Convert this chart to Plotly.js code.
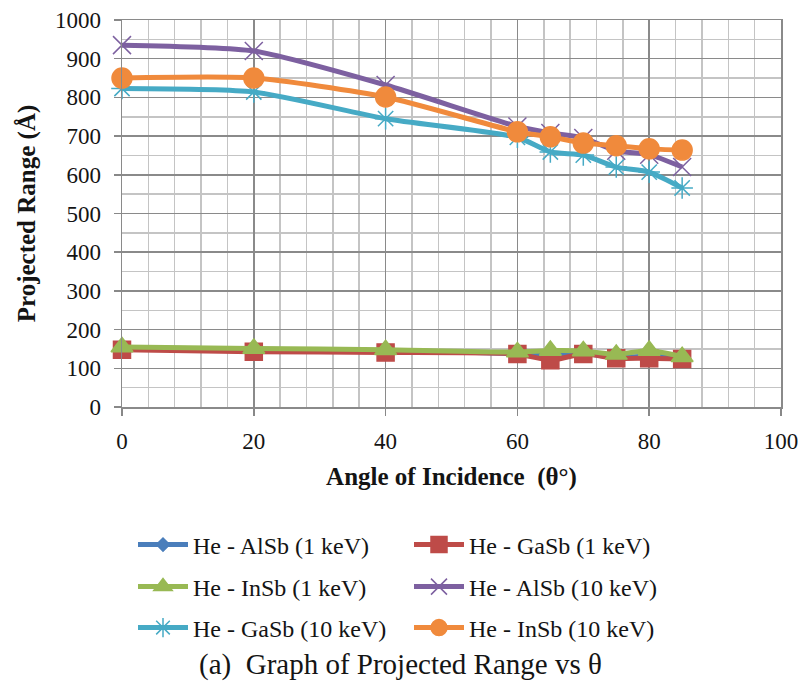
<!DOCTYPE html>
<html><head><meta charset="utf-8">
<script src="https://cdn.plot.ly/plotly-3.0.1.min.js"></script>
<style>body{margin:0;background:#fff}#c{width:802px;height:685px}</style>
</head><body><div id="c"></div>
<script>
const angles = [0, 20, 40, 60, 65, 70, 75, 80, 85];
const names = ["He - AlSb (1 keV)", "He - GaSb (1 keV)", "He - InSb (1 keV)", "He - AlSb (10 keV)", "He - GaSb (10 keV)", "He - InSb (10 keV)"];
const alsb1 = [153, 149, 146, 138, 134, 138, 128, 132, 128];
const gasb1 = [148, 143, 141, 137, 121, 137, 126, 126, 124];
const insb1 = [155, 151, 148, 142, 146, 145, 136, 146, 130];
const alsb10 = [935, 920, 832, 725, 708, 695, 662, 652, 620];
const gasb10 = [823, 814, 745, 697, 659, 651, 620, 607, 566];
const insb10 = [850, 850, 801, 711, 698, 682, 675, 667, 664];
const xTicks = [0, 20, 40, 60, 80, 100];
const yTicks = [0, 100, 200, 300, 400, 500, 600, 700, 800, 900, 1000];

const colors = ["#4a7ebb", "#be4b48", "#98b954", "#7d60a0", "#46aac5", "#f08a3c"];
const symbols = ["diamond", "square", "triangle-up", "x-thin-open", "asterisk-open", "circle"];
const sizes = [10, 17, 19, 18, 18, 20];
const series = [alsb1, gasb1, insb1, alsb10, gasb10, insb10];
const legendIds = ["legend", "legend", "legend2", "legend2", "legend3", "legend3"];

const traces = series.map((ys, i) => ({
  x: angles, y: ys, name: names[i], type: "scatter", mode: "lines+markers",
  cliponaxis: false,
  line: {color: colors[i], width: 5, shape: "spline", smoothing: 0.6},
  marker: {symbol: symbols[i], size: sizes[i], color: colors[i], line: {color: colors[i], width: 1.5}},
  legend: legendIds[i]
}));

const fontF = "Liberation Serif, serif";
const txt = "#141414";
const legBase = (yPix) => ({
  xref: "container", yref: "container", x: 133/802, y: 1 - yPix/685, yanchor: "middle",
  orientation: "h", entrywidth: 211, entrywidthmode: "pixels", itemwidth: 50,
  font: {family: fontF, size: 24, color: txt}, bgcolor: "rgba(0,0,0,0)"
});

const layout = {
  width: 802, height: 685,
  margin: {l: 122, r: 21, t: 20, b: 278},
  paper_bgcolor: "#fff", plot_bgcolor: "#fff",
  font: {family: fontF, color: txt},
  xaxis: {
    range: [0, 100], tickvals: xTicks, ticks: "outside", ticklen: 7, tickcolor: "#888", tickwidth: 1.5,
    ticklabelstandoff: 6,
    showgrid: true, gridcolor: "#8a8a8a", gridwidth: 1.5,
    minor: {dtick: 4, showgrid: true, gridcolor: "#c4c4c4", gridwidth: 1.5},
    showline: true, linecolor: "#8a8a8a", linewidth: 1.5, mirror: true, zeroline: false,
    tickfont: {family: fontF, size: 23, color: txt},
    title: {text: "<b>Angle of Incidence  (θ°)</b>", font: {family: fontF, size: 25, color: txt}, standoff: 14}
  },
  yaxis: {
    range: [0, 1000], tickvals: yTicks, ticks: "outside", ticklen: 7, tickcolor: "#888", tickwidth: 1.5,
    ticklabelstandoff: 8,
    showgrid: true, gridcolor: "#8a8a8a", gridwidth: 1.5,
    minor: {dtick: 50, showgrid: true, gridcolor: "#c4c4c4", gridwidth: 1.5},
    showline: true, linecolor: "#8a8a8a", linewidth: 1.5, mirror: true, zeroline: false,
    tickfont: {family: fontF, size: 23, color: txt},
    title: {text: "<b>Projected Range (Å)</b>", font: {family: fontF, size: 25, color: txt}, standoff: 12}
  },
  legend: legBase(545),
  legend2: legBase(587),
  legend3: legBase(628),
  annotations: [{
    xref: "paper", yref: "paper", x: (400 - 122) / 659, y: -(665 - 407) / 387,
    xanchor: "center", yanchor: "middle",
    text: "(a)  Graph of Projected Range vs θ", showarrow: false,
    font: {family: fontF, size: 29, color: txt}
  }]
};
Plotly.newPlot("c", traces, layout, {displayModeBar: false, staticPlot: true});
</script></body></html>
